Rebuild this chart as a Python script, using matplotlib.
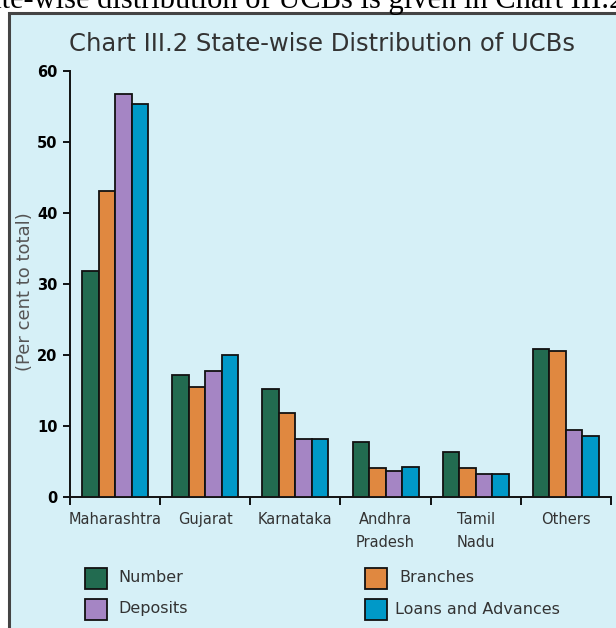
import matplotlib
matplotlib.use("Agg")
import matplotlib.pyplot as plt
from matplotlib.patches import Rectangle
import numpy as np

categories = ["Maharashtra", "Gujarat", "Karnataka", "Andhra\nPradesh", "Tamil\nNadu", "Others"]
number = [31.8, 17.2, 15.2, 7.8, 6.4, 20.8]
branches = [43.1, 15.5, 11.9, 4.1, 4.1, 20.5]
deposits = [56.7, 17.7, 8.1, 3.6, 3.3, 9.5]
loans = [55.3, 20.0, 8.1, 4.2, 3.3, 8.6]
series_names = ["Number", "Branches", "Deposits", "Loans and Advances"]
yticks = [0, 10, 20, 30, 40, 50, 60]

colors = ["#226B50", "#E08840", "#A585C4", "#0099C8"]
bg = "#D6F0F7"
W, H = 616, 628
SANS = "DejaVu Sans"

fig = plt.figure(figsize=(W / 100, H / 100), dpi=100)
fig.patch.set_facecolor("white")

# panel
panel = Rectangle((9 / W, -0.05), 1.2, 1 - 13.5 / H + 0.05, transform=fig.transFigure,
                  facecolor=bg, edgecolor="#444444", linewidth=2.2, zorder=-10)
fig.patches.append(panel)

# cut-off sentence at top
fig.text(-12 / W, 1 - 8 / H, "ate-wise distribution of UCBs is given in Chart III.2",
         fontsize=22, family="Liberation Serif", color="black", va="baseline", ha="left")

fig.text(322 / W, 1 - 44 / H, "Chart III.2 State-wise Distribution of UCBs",
         fontsize=17.5, family=SANS, color="#333333", ha="center", va="center")

ax = fig.add_axes([70 / W, 1 - 497 / H, (611 - 70) / W, (497 - 71) / H])
ax.set_facecolor("none")
x = np.arange(len(categories))
bw = 0.183
data = [number, branches, deposits, loans]
for i, (vals, c) in enumerate(zip(data, colors)):
    ax.bar(x + (i - 1.5) * bw, vals, width=bw, color=c, edgecolor="#111111", linewidth=1.3,
           label=series_names[i], zorder=3)

ax.set_xlim(-0.5, len(categories) - 0.5)
ax.set_ylim(0, 60)
ax.set_yticks(yticks)
ax.set_yticklabels([str(v) for v in yticks], fontsize=10.5, fontweight="bold", family=SANS)
ax.set_xticks(np.arange(len(categories) + 1) - 0.5)
ax.set_xticklabels([])
ax.set_xticks(x, minor=True)
ax.set_xticklabels(categories, minor=True, fontsize=10.5, family=SANS,
                   color="#333333", linespacing=1.65)
ax.tick_params(axis="x", which="minor", length=0, pad=11)
ax.tick_params(axis="x", which="major", length=6, width=1.3, direction="out")
ax.tick_params(axis="y", length=5, width=1.3, pad=4)
for s in ["top", "right"]:
    ax.spines[s].set_visible(False)
for s in ["left", "bottom"]:
    ax.spines[s].set_linewidth(1.4)
    ax.spines[s].set_color("#111111")

fig.text(25 / W, 1 - 292 / H, "(Per cent to total)", rotation=90, fontsize=13,
         family=SANS, color="#555555", ha="center", va="center")

# legend
leg_items = [(85, 568, 0), (365, 568, 1), (85, 599, 2), (365, 599, 3)]
text_x = [118, 399, 118, 395]
for (lx, ly, k), tx in zip(leg_items, text_x):
    fig.patches.append(Rectangle((lx / W, 1 - (ly + 21) / H), 22 / W, 21 / H,
                                 transform=fig.transFigure, facecolor=colors[k],
                                 edgecolor="#111111", linewidth=1.3, zorder=2))
    fig.text(tx / W, 1 - (ly + 10) / H, series_names[k], fontsize=11.5,
             family=SANS, color="#333333", va="center", ha="left")

fig.savefig("out.png", dpi=100, facecolor=fig.get_facecolor())
